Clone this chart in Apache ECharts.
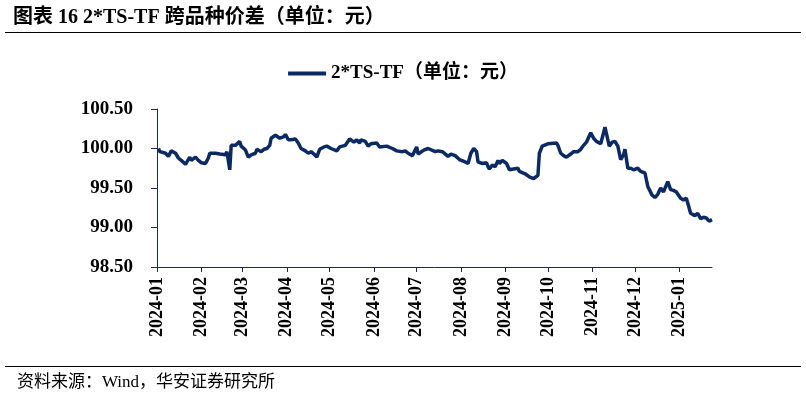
<!DOCTYPE html>
<html>
<head>
<meta charset="utf-8">
<script src="https://cdn.jsdelivr.net/npm/echarts@6/dist/echarts.min.js"></script>
<style>
  html, body { margin: 0; padding: 0; background: #fff; }
  #main { width: 806px; height: 398px; }
</style>
</head>
<body>
<div id="main"></div>
<script>
// 读图得到的日期与价差
var dates = [
  '2024-01-02','2024-01-03','2024-01-07','2024-01-09','2024-01-11','2024-01-14','2024-01-16','2024-01-18',
  '2024-01-21','2024-01-22','2024-01-24','2024-01-25','2024-01-28','2024-01-30','2024-02-01','2024-02-04',
  '2024-02-06','2024-02-07','2024-02-11','2024-02-14','2024-02-18','2024-02-19','2024-02-21','2024-02-22',
  '2024-02-23','2024-02-25','2024-02-28','2024-02-29','2024-03-03','2024-03-05','2024-03-07','2024-03-10',
  '2024-03-11','2024-03-14','2024-03-16','2024-03-18','2024-03-20','2024-03-21','2024-03-24','2024-03-25',
  '2024-03-27','2024-03-30','2024-03-31','2024-04-02','2024-04-04','2024-04-07','2024-04-09','2024-04-11',
  '2024-04-14','2024-04-16','2024-04-18','2024-04-20','2024-04-22','2024-04-24','2024-04-27','2024-04-29',
  '2024-05-02','2024-05-06','2024-05-08','2024-05-12','2024-05-15','2024-05-18','2024-05-20','2024-05-22',
  '2024-05-23','2024-05-26','2024-05-28','2024-05-30','2024-06-03','2024-06-05','2024-06-10','2024-06-14',
  '2024-06-17','2024-06-21','2024-06-23','2024-06-25','2024-06-28','2024-07-01','2024-07-02','2024-07-06',
  '2024-07-09','2024-07-14','2024-07-16','2024-07-19','2024-07-23','2024-07-25','2024-07-28','2024-07-31',
  '2024-08-04','2024-08-06','2024-08-08','2024-08-10','2024-08-12','2024-08-13','2024-08-16','2024-08-19',
  '2024-08-20','2024-08-21','2024-08-23','2024-08-25','2024-08-27','2024-08-28','2024-08-30','2024-09-02',
  '2024-09-04','2024-09-07','2024-09-10','2024-09-11','2024-09-15','2024-09-18','2024-09-21','2024-09-24',
  '2024-09-25','2024-09-27','2024-10-01','2024-10-07','2024-10-08','2024-10-10','2024-10-12','2024-10-14',
  '2024-10-17','2024-10-19','2024-10-22','2024-10-24','2024-10-26','2024-10-28','2024-10-31','2024-11-02',
  '2024-11-04','2024-11-07','2024-11-09','2024-11-10','2024-11-12','2024-11-13','2024-11-15','2024-11-17',
  '2024-11-19','2024-11-21','2024-11-23','2024-11-24','2024-11-26','2024-11-28','2024-11-30','2024-12-03',
  '2024-12-05','2024-12-08','2024-12-10','2024-12-11','2024-12-13','2024-12-15','2024-12-17','2024-12-19',
  '2024-12-21','2024-12-22','2024-12-24','2024-12-26','2024-12-28','2024-12-30','2025-01-02','2025-01-04',
  '2025-01-06','2025-01-07','2025-01-09','2025-01-12','2025-01-14','2025-01-16','2025-01-18','2025-01-20',
  '2025-01-22','2025-01-24'
];
var spread = [
  100.00,99.96,99.94,99.90,99.97,99.94,99.88,99.85,
  99.80,99.83,99.89,99.85,99.89,99.85,99.82,99.81,
  99.88,99.94,99.94,99.93,99.92,99.96,99.73,100.04,
  100.06,100.04,100.09,100.03,99.98,99.89,99.92,99.94,
  99.99,99.96,99.99,100.00,100.04,100.13,100.17,100.18,
  100.13,100.15,100.18,100.11,100.11,100.12,100.07,100.00,
  99.97,99.94,99.96,99.93,99.89,99.99,100.02,100.03,
  100.00,99.97,100.02,100.04,100.12,100.08,100.11,100.07,
  100.11,100.09,100.03,100.06,100.07,100.02,100.03,100.00,
  99.97,99.96,99.97,99.94,99.91,100.02,99.93,99.98,
  100.00,99.96,99.97,99.96,99.90,99.93,99.91,99.86,
  99.83,99.81,99.94,100.00,99.96,99.83,99.81,99.82,
  99.77,99.74,99.79,99.77,99.85,99.81,99.85,99.81,
  99.73,99.74,99.75,99.71,99.68,99.64,99.62,99.66,
  99.94,100.03,100.06,100.07,100.04,99.94,99.91,99.89,
  99.93,99.96,99.96,99.99,100.04,100.08,100.20,100.13,
  100.09,100.06,100.20,100.27,100.11,100.03,100.08,100.09,
  100.03,99.86,99.92,99.99,99.75,99.75,99.73,99.75,
  99.71,99.69,99.52,99.50,99.41,99.38,99.42,99.50,
  99.45,99.46,99.58,99.48,99.47,99.45,99.37,99.35,
  99.37,99.31,99.18,99.15,99.18,99.11,99.13,99.12,
  99.08,99.10
];
var axisStart = '2024-01-01';
var axisEnd = '2025-01-24';
var yTicks = [98.5, 100.5, 0.5]; // min, max, interval

// 按日历日铺满横轴
var days = [];
var t = Date.parse(axisStart + 'T00:00:00Z');
var tEnd = Date.parse(axisEnd + 'T00:00:00Z');
while (t <= tEnd) {
  days.push(new Date(t).toISOString().slice(0, 10));
  t += 86400000;
}
var lookup = {};
dates.forEach(function (d, i) { lookup[d] = spread[i]; });
var seriesData = days.map(function (d) {
  return lookup[d] === undefined ? null : lookup[d];
});

function isMonthStart(idx, val) {
  return val.slice(8) === '01';
}

var serif = 'Liberation Serif, "Times New Roman", "Noto Sans CJK SC", serif';
var axisColor = '#1a2a5c';

var option = {
  backgroundColor: '#FFFFFF',
  animation: false,
  title: {
    text: '图表 16 2*TS-TF 跨品种价差（单位：元）',
    left: 8,
    top: 3,
    textStyle: { fontFamily: serif, fontSize: 20, fontWeight: 'bold', color: '#000' }
  },
  legend: {
    top: 59,
    left: 'center',
    icon: 'rect',
    itemWidth: 38,
    itemHeight: 4,
    itemGap: 4,
    textStyle: { fontFamily: serif, fontSize: 19, fontWeight: 'bold', color: '#000' },
    data: ['2*TS-TF（单位：元）']
  },
  grid: { left: 157, right: 94, top: 109, bottom: 131, containLabel: false },
  xAxis: {
    type: 'category',
    data: days,
    boundaryGap: false,
    axisLine: { lineStyle: { color: axisColor, width: 1 } },
    axisTick: { show: true, interval: isMonthStart, length: 5, lineStyle: { color: axisColor } },
    axisLabel: {
      interval: isMonthStart,
      rotate: 90,
      margin: 10,
      fontFamily: serif,
      fontSize: 18,
      fontWeight: 'bold',
      color: '#000',
      formatter: function (v) { return v.slice(0, 7); }
    },
    splitLine: { show: false }
  },
  yAxis: {
    type: 'value',
    min: yTicks[0],
    max: yTicks[1],
    interval: yTicks[2],
    axisLine: { show: true, lineStyle: { color: axisColor, width: 1 } },
    axisTick: { show: true, length: 6, lineStyle: { color: axisColor } },
    axisLabel: {
      margin: 24,
      fontFamily: serif,
      fontSize: 19,
      fontWeight: 'bold',
      color: '#000',
      formatter: function (v) { return v.toFixed(2); }
    },
    splitLine: { show: false }
  },
  series: [{
    name: '2*TS-TF（单位：元）',
    type: 'line',
    data: seriesData,
    connectNulls: true,
    showSymbol: false,
    symbol: 'none',
    itemStyle: { color: '#0b2a63' },
    lineStyle: { color: '#0b2a63', width: 3.5 }
  }],
  graphic: [
    { type: 'line', shape: { x1: 5, y1: 32.5, x2: 801, y2: 32.5 }, style: { stroke: '#000', lineWidth: 1 } },
    { type: 'line', shape: { x1: 5, y1: 366.5, x2: 801, y2: 366.5 }, style: { stroke: '#000', lineWidth: 1 } },
    {
      type: 'text', left: 17, top: 374,
      style: { text: '资料来源：Wind，华安证券研究所', font: '17px ' + serif, fill: '#000' }
    }
  ]
};

var myChart = echarts.init(document.getElementById('main'));
myChart.setOption(option);
</script>
</body>
</html>
